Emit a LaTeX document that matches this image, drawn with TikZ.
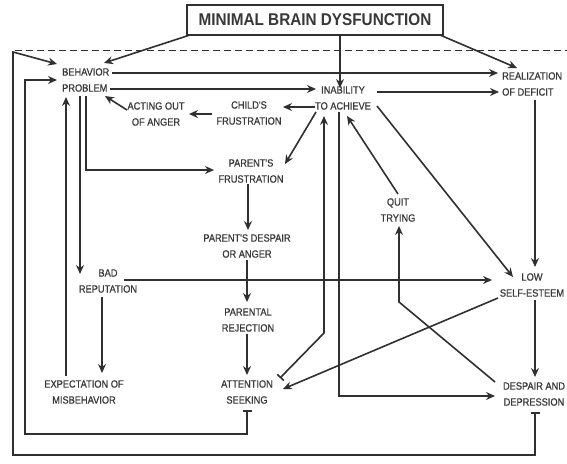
\documentclass[tikz,border=0pt]{standalone}
\usepackage{fontspec}
\newfontfamily\lblfont{Liberation Sans}[FakeStretch=0.88,FakeBold=0.7]
\newfontfamily\ttlfont{Liberation Sans}[FakeStretch=0.9]
\usetikzlibrary{arrows.meta,calc}
\definecolor{ink}{HTML}{303030}
\definecolor{txt}{HTML}{383838}
\begin{document}
\begin{tikzpicture}[x=1pt,y=-1pt,
  lbl/.style={font=\lblfont\fontsize{10.5}{16}\selectfont, align=center, inner sep=0pt, text=txt},
  lbll/.style={lbl, align=left, anchor=west},
  ttl/.style={draw=ink, line width=2.2pt, minimum width=256pt, minimum height=30pt, inner sep=0pt,
    font=\ttlfont\bfseries\fontsize{17}{17}\selectfont, text=txt},
  conn/.style={draw=ink, line width=1.6pt, -{Stealth[length=9pt,width=8pt,inset=3pt]}},
  barconn/.style={draw=ink, line width=1.6pt, {Bar[width=9pt]}-{Stealth[length=9pt,width=8pt,inset=3pt]}},
  divider/.style={draw=ink, line width=1.6pt, dash pattern=on 7pt off 4pt}]
\useasboundingbox[fill=white] (0,0) rectangle (567,463);

% nodes
\node[ttl] (mbd) at (315,20) {MINIMAL BRAIN DYSFUNCTION};
\node[lbll] (beh) at (62,80) {BEHAVIOR\\PROBLEM};
\node[lbll] (real) at (502,84) {REALIZATION\\OF DEFICIT};
\node[lbl] (inab) at (343,98) {INABILITY\\TO ACHIEVE};
\node[lbl] (act) at (156,114) {ACTING OUT\\OF ANGER};
\node[lbl] (chf) at (249,113) {CHILD'S\\FRUSTRATION};
\node[lbl] (pf) at (251,171) {PARENT'S\\FRUSTRATION};
\node[lbl] (pd) at (247,246) {PARENT'S DESPAIR\\OR ANGER};
\node[lbl] (quit) at (398,210) {QUIT\\TRYING};
\node[lbl] (bad) at (108,281) {BAD\\REPUTATION};
\node[lbl] (low) at (532,285) {LOW\\SELF-ESTEEM};
\node[lbl] (pr) at (248,320) {PARENTAL\\REJECTION};
\node[lbl] (exp) at (84,392) {EXPECTATION OF\\MISBEHAVIOR};
\node[lbl] (att) at (247,392) {ATTENTION\\SEEKING};
\node[lbl] (dd) at (534,394) {DESPAIR AND\\DEPRESSION};

% dashed divider
\coordinate (dl) at (15,50.5);
\coordinate (dr) at (567,50.5);
\draw[divider] (dl) -- (dr);

% from the title
\draw[conn] ($(mbd)+(-125,15)$) -- ($(beh.west)+(42,-17)$);
\draw[conn] ($(mbd)+(25,15)$) -- ($(inab)+(-3,-10)$);
\draw[conn] ($(mbd)+(125,15)$) -- ($(real.west)+(15,-16)$);

% outer feedback loop
\coordinate (obr) at (535,455);
\coordinate (obl) at (13,455);
\coordinate (otl) at (13,52);
\draw[barconn] ($(dd)+(1,18)$) -- (obr) -- (obl) -- (otl) -- ($(beh.west)+(-5,-16)$);

% inner feedback loop
\coordinate (ibr) at (247,434);
\coordinate (ibl) at (25,434);
\coordinate (itl) at (25,80);
\draw[barconn] ($(att)+(0,18)$) -- (ibr) -- (ibl) -- (itl) -- ($(beh.west)+(-5,0)$);

% left column
\draw[conn] ($(exp)+(-18,-16)$) -- ($(beh.west)+(4,17)$);
\draw[conn] ($(beh.west)+(18,16)$) -- ($(bad)+(-28,-7)$);
\draw[conn] ($(beh.west)+(24,16)$) |- ($(pf)+(-37,-1)$);
\draw[conn] ($(bad)+(-6,16)$) -- ($(exp)+(18,-19)$);
\draw[conn] ($(bad)+(16,-1)$) -- ($(low)+(-40,-5)$);

% top rows
\draw[conn] ($(beh.west)+(50,-7)$) -- ($(real.west)+(-4,-11)$);
\draw[conn] ($(beh.west)+(48,9)$) -- ($(inab)+(-27,-9)$);
\draw[conn] ($(inab)+(34,-6)$) -- ($(real.west)+(-3,8)$);
\draw[conn] ($(inab)+(-28,9)$) -- ($(chf)+(34,-6)$);
\draw[conn] ($(chf)+(-37,1)$) -- ($(act)+(33,0)$);
\draw[conn] ($(act)+(-29,-4)$) -- ($(beh.west)+(43,16)$);

% parent chain
\draw[conn] ($(inab)+(-27,14)$) -- ($(pf)+(34,-7)$);
\draw[conn] ($(pf)+(-3,13)$) -- ($(pd)+(1,-16)$);
\draw[conn] ($(pd)+(0,14)$) -- ($(pr)+(-1,-18)$);
\draw[conn] ($(pr)+(-1,14)$) -- ($(att)+(0,-17)$);

% attention seeking back to inability
\coordinate (ab) at (324,333);
\draw[barconn] ($(att)+(33,-14)$) -- (ab) -- ($(inab)+(-19,18)$);

% inability outputs
\draw[conn] ($(inab)+(-4,14)$) |- ($(dd)+(-39,2)$);
\draw[conn] ($(inab)+(34,8)$) -- ($(low)+(-19,-8)$);
\draw[conn] ($(quit)+(0,-16)$) -- ($(inab)+(4,18)$);

% right side
\draw[conn] ($(low)+(-34,13)$) -- ($(att)+(36,-3)$);
\coordinate (qb) at (399,302);
\draw[conn] ($(dd)+(-39,-12)$) -- (qb) -- ($(quit)+(1,16)$);
\draw[conn] ($(real.west)+(33,16)$) -- ($(low)+(3,-18)$);
\draw[conn] ($(low)+(3,15)$) -- ($(dd)+(1,-17)$);
\end{tikzpicture}
\end{document}
